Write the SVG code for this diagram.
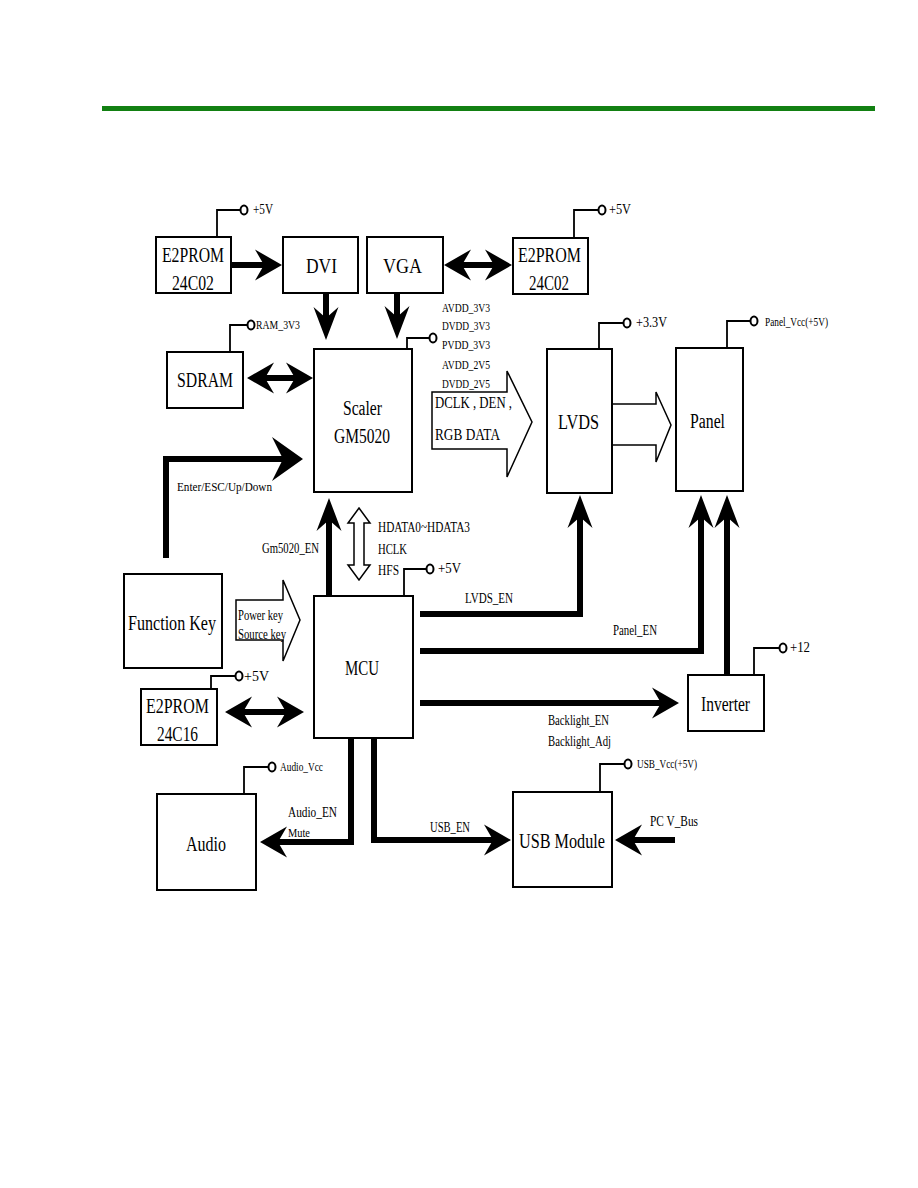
<svg xmlns="http://www.w3.org/2000/svg" xmlns:xlink="http://www.w3.org/1999/xlink" width="918" height="1188" viewBox="0 0 918 1188">
<style>
.box{fill:#fff;stroke:#000;stroke-width:2}
.pin{fill:none;stroke:#000;stroke-width:1.8}
.pc{fill:#fff;stroke:#000;stroke-width:2}
.bus{fill:none;stroke:#000;stroke-width:6;stroke-linejoin:miter}
.hollow{fill:#fff;stroke:#000;stroke-width:1.5;stroke-linejoin:miter}
.head{fill:#000}
text{font-family:"Liberation Serif","Times New Roman",serif;fill:#000}
.lb{font-size:20px}
.md{font-size:16px}
.sm{font-size:14px}
.xs{font-size:12.5px}
</style>
<defs>
<path id="ah" class="head" d="M0,0 L-27,-15.5 L-18,0 L-27,15.5 Z"/>
<path id="av" class="head" d="M0,0 L-33,-12.5 L-22,0 L-33,12.5 Z"/>
<path id="abig" class="head" d="M0,0 L-31,-22 L-20,0 L-31,22 Z"/>
</defs>
<rect x="102" y="106" width="773" height="5" fill="#128012"/>

<g id="connectors">
<line class="bus" x1="231" y1="265" x2="268" y2="265"/>
<use xlink:href="#ah" transform="translate(282,265)"/>
<line class="bus" x1="455" y1="265" x2="500" y2="265"/>
<use xlink:href="#ah" transform="translate(444,265) rotate(180)"/>
<use xlink:href="#ah" transform="translate(512,265)"/>
<line class="bus" x1="326" y1="293" x2="326" y2="322"/>
<use xlink:href="#av" transform="translate(326,340) rotate(90)"/>
<line class="bus" x1="397" y1="293" x2="397" y2="321"/>
<use xlink:href="#av" transform="translate(397,339) rotate(90)"/>
<line class="bus" x1="258" y1="378" x2="302" y2="378"/>
<use xlink:href="#ah" transform="translate(247,378) rotate(180)"/>
<use xlink:href="#ah" transform="translate(313,378)"/>
<polyline class="bus" points="166,558 166,459 288,459"/>
<use xlink:href="#abig" transform="translate(303,459)"/>
<line class="bus" x1="329" y1="596" x2="329" y2="515"/>
<use xlink:href="#av" transform="translate(329,498) rotate(-90)"/>
<polygon class="hollow" points="359,508 370,523 364,523 364,565 370,565 359,580 348,565 354,565 354,523 348,523"/>
<polygon class="hollow" points="432,392 507,392 507,371 532,422 507,477 507,449 432,449"/>
<polygon class="hollow" points="612,404 656,404 656,392 671,425 656,462 656,445 612,445"/>
<polygon class="hollow" points="236,600 283,600 283,580 300,620 283,661 283,640 236,640"/>
<line class="bus" x1="236" y1="712" x2="293" y2="712"/>
<use xlink:href="#ah" transform="translate(225,712) rotate(180)"/>
<use xlink:href="#ah" transform="translate(304,712)"/>
<polyline class="bus" points="420,614 580,614 580,512"/>
<use xlink:href="#av" transform="translate(580,495) rotate(-90)"/>
<polyline class="bus" points="420,651 701,651 701,512"/>
<use xlink:href="#av" transform="translate(701,495) rotate(-90)"/>
<line class="bus" x1="727" y1="675" x2="727" y2="512"/>
<use xlink:href="#av" transform="translate(727,495) rotate(-90)"/>
<line class="bus" x1="420" y1="703" x2="666" y2="703"/>
<use xlink:href="#ah" transform="translate(679,703)"/>
<polyline class="bus" points="351,738 351,842 272,842"/>
<use xlink:href="#ah" transform="translate(260,842) rotate(180)"/>
<polyline class="bus" points="374,738 374,840 498,840"/>
<use xlink:href="#ah" transform="translate(511,840)"/>
<line class="bus" x1="675" y1="840" x2="628" y2="840"/>
<use xlink:href="#ah" transform="translate(615,840) rotate(180)"/>
<text class="xs" x="177" y="491" textLength="95" lengthAdjust="spacingAndGlyphs">Enter/ESC/Up/Down</text>
<text class="md" x="435" y="408" textLength="77" lengthAdjust="spacingAndGlyphs">DCLK , DEN ,</text>
<text class="md" x="435" y="440" textLength="65" lengthAdjust="spacingAndGlyphs">RGB DATA</text>
<text class="sm" x="262" y="553" textLength="57" lengthAdjust="spacingAndGlyphs">Gm5020_EN</text>
<text class="sm" x="378" y="532" textLength="92" lengthAdjust="spacingAndGlyphs">HDATA0~HDATA3</text>
<text class="sm" x="378" y="554" textLength="29" lengthAdjust="spacingAndGlyphs">HCLK</text>
<text class="sm" x="378" y="575" textLength="21" lengthAdjust="spacingAndGlyphs">HFS</text>
<text class="sm" x="238" y="620" textLength="45" lengthAdjust="spacingAndGlyphs">Power key</text>
<text class="sm" x="238" y="639" textLength="48" lengthAdjust="spacingAndGlyphs">Source key</text>
<text class="sm" x="465" y="603" textLength="48" lengthAdjust="spacingAndGlyphs">LVDS_EN</text>
<text class="sm" x="613" y="635" textLength="44" lengthAdjust="spacingAndGlyphs">Panel_EN</text>
<text class="sm" x="548" y="725" textLength="61" lengthAdjust="spacingAndGlyphs">Backlight_EN</text>
<text class="sm" x="548" y="746" textLength="63" lengthAdjust="spacingAndGlyphs">Backlight_Adj</text>
<text class="sm" x="288" y="817" textLength="49" lengthAdjust="spacingAndGlyphs">Audio_EN</text>
<text class="xs" x="288" y="837" textLength="22" lengthAdjust="spacingAndGlyphs">Mute</text>
<text class="sm" x="430" y="832" textLength="40" lengthAdjust="spacingAndGlyphs">USB_EN</text>
<text class="sm" x="650" y="826" textLength="48" lengthAdjust="spacingAndGlyphs">PC V_Bus</text>
</g>

<g id="e2prom-left">
<polyline class="pin" points="217,237 217,210 240,210"/><ellipse class="pc" cx="244" cy="210" rx="3.5" ry="4.5"/>
<text class="sm" x="253" y="214" textLength="20" lengthAdjust="spacingAndGlyphs">+5V</text>
<rect class="box" x="156" y="237" width="75" height="56"/>
<text class="lb" x="162" y="262" textLength="62" lengthAdjust="spacingAndGlyphs">E2PROM</text>
<text class="lb" x="172" y="290" textLength="42" lengthAdjust="spacingAndGlyphs">24C02</text>
</g>
<g id="dvi">
<rect class="box" x="283" y="237" width="75" height="56"/>
<text class="lb" x="306" y="273" textLength="31" lengthAdjust="spacingAndGlyphs">DVI</text>
</g>
<g id="vga">
<rect class="box" x="367" y="237" width="76" height="56"/>
<text class="lb" x="383" y="273" textLength="39" lengthAdjust="spacingAndGlyphs">VGA</text>
</g>
<g id="e2prom-right">
<polyline class="pin" points="574,238 574,210 598,210"/><ellipse class="pc" cx="602" cy="210" rx="3.5" ry="4.5"/>
<text class="sm" x="609" y="214" textLength="22" lengthAdjust="spacingAndGlyphs">+5V</text>
<rect class="box" x="513" y="238" width="75" height="56"/>
<text class="lb" x="518" y="262" textLength="63" lengthAdjust="spacingAndGlyphs">E2PROM</text>
<text class="lb" x="529" y="290" textLength="40" lengthAdjust="spacingAndGlyphs">24C02</text>
</g>
<g id="sdram">
<polyline class="pin" points="230,352 230,325 247,325"/><ellipse class="pc" cx="251" cy="325" rx="3.5" ry="4.5"/>
<text class="xs" x="256" y="329" textLength="44" lengthAdjust="spacingAndGlyphs">RAM_3V3</text>
<rect class="box" x="167" y="352" width="76" height="56"/>
<text class="lb" x="177" y="387" textLength="56" lengthAdjust="spacingAndGlyphs">SDRAM</text>
</g>
<g id="scaler">
<polyline class="pin" points="407,349 407,338 429,338"/><ellipse class="pc" cx="433" cy="338" rx="3.5" ry="4.5"/>
<text class="xs" x="442" y="312" textLength="48" lengthAdjust="spacingAndGlyphs">AVDD_3V3</text>
<text class="xs" x="442" y="330" textLength="48" lengthAdjust="spacingAndGlyphs">DVDD_3V3</text>
<text class="xs" x="442" y="349" textLength="48" lengthAdjust="spacingAndGlyphs">PVDD_3V3</text>
<text class="xs" x="442" y="369" textLength="48" lengthAdjust="spacingAndGlyphs">AVDD_2V5</text>
<text class="xs" x="442" y="388" textLength="48" lengthAdjust="spacingAndGlyphs">DVDD_2V5</text>
<rect class="box" x="314" y="349" width="98" height="143"/>
<text class="lb" x="343" y="415" textLength="39" lengthAdjust="spacingAndGlyphs">Scaler</text>
<text class="lb" x="334" y="443" textLength="56" lengthAdjust="spacingAndGlyphs">GM5020</text>
</g>
<g id="lvds">
<polyline class="pin" points="599,349 599,323 623,323"/><ellipse class="pc" cx="627" cy="323" rx="3.5" ry="4.5"/>
<text class="sm" x="636" y="327" textLength="31" lengthAdjust="spacingAndGlyphs">+3.3V</text>
<rect class="box" x="547" y="349" width="65" height="144"/>
<text class="lb" x="558" y="429" textLength="41" lengthAdjust="spacingAndGlyphs">LVDS</text>
</g>
<g id="panel">
<polyline class="pin" points="727,348 727,321 750,321"/><ellipse class="pc" cx="754" cy="321" rx="3.5" ry="4.5"/>
<text class="xs" x="765" y="326" textLength="63" lengthAdjust="spacingAndGlyphs">Panel_Vcc(+5V)</text>
<rect class="box" x="676" y="348" width="67" height="143"/>
<text class="lb" x="690" y="428" textLength="35" lengthAdjust="spacingAndGlyphs">Panel</text>
</g>
<g id="function-key">
<rect class="box" x="124" y="574" width="98" height="94"/>
<text class="lb" x="128" y="630" textLength="88" lengthAdjust="spacingAndGlyphs">Function Key</text>
</g>
<g id="mcu">
<polyline class="pin" points="404,596 404,569 426,569"/><ellipse class="pc" cx="430" cy="569" rx="3.5" ry="4.5"/>
<text class="sm" x="438" y="573" textLength="23" lengthAdjust="spacingAndGlyphs">+5V</text>
<rect class="box" x="314" y="596" width="99" height="142"/>
<text class="lb" x="345" y="675" textLength="34" lengthAdjust="spacingAndGlyphs">MCU</text>
</g>
<g id="e2prom-24c16">
<polyline class="pin" points="211,689 211,676 235,676"/><ellipse class="pc" cx="239" cy="676" rx="3.5" ry="4.5"/>
<text class="sm" x="244" y="681" textLength="25" lengthAdjust="spacingAndGlyphs">+5V</text>
<rect class="box" x="141" y="689" width="76" height="56"/>
<text class="lb" x="146" y="713" textLength="63" lengthAdjust="spacingAndGlyphs">E2PROM</text>
<text class="lb" x="157" y="741" textLength="41" lengthAdjust="spacingAndGlyphs">24C16</text>
</g>
<g id="inverter">
<polyline class="pin" points="754,675 754,648 779,648"/><ellipse class="pc" cx="783" cy="648" rx="3.5" ry="4.5"/>
<text class="sm" x="790" y="652" textLength="20" lengthAdjust="spacingAndGlyphs">+12</text>
<rect class="box" x="688" y="675" width="76" height="56"/>
<text class="lb" x="701" y="711" textLength="49" lengthAdjust="spacingAndGlyphs">Inverter</text>
</g>
<g id="audio">
<polyline class="pin" points="244,794 244,767 268,767"/><ellipse class="pc" cx="272" cy="767" rx="3.5" ry="4.5"/>
<text class="xs" x="280" y="771" textLength="43" lengthAdjust="spacingAndGlyphs">Audio_Vcc</text>
<rect class="box" x="157" y="794" width="99" height="96"/>
<text class="lb" x="186" y="851" textLength="40" lengthAdjust="spacingAndGlyphs">Audio</text>
</g>
<g id="usb-module">
<polyline class="pin" points="600,792 600,764 624,764"/><ellipse class="pc" cx="628" cy="764" rx="3.5" ry="4.5"/>
<text class="xs" x="637" y="768" textLength="60" lengthAdjust="spacingAndGlyphs">USB_Vcc(+5V)</text>
<rect class="box" x="513" y="792" width="99" height="95"/>
<text class="lb" x="519" y="848" textLength="86" lengthAdjust="spacingAndGlyphs">USB Module</text>
</g>
</svg>
